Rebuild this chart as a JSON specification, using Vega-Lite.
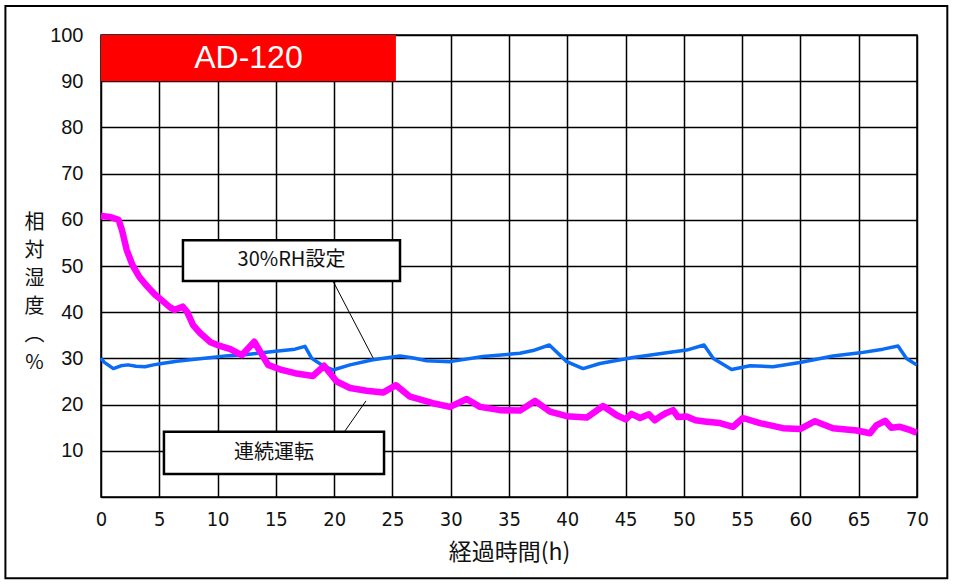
{
  "$schema": "https://vega.github.io/schema/vega-lite/v6.json",
  "width": 816,
  "height": 462,
  "autosize": {"type": "none"},
  "padding": {"left": 101, "top": 35, "right": 37, "bottom": 89},
  "background": "white",
  "config": {
    "view": {"stroke": "black", "strokeWidth": 1.5},
    "axis": {"grid": true, "gridColor": "black", "gridOpacity": 1, "gridWidth": 1.5, "ticks": false, "domain": false, "labelColor": "#111", "titleColor": "#111", "titleFontWeight": "normal"}
  },
  "datasets": {
    "rh": [
      {"t": 0, "v": 30.1}, {"t": 0.26, "v": 29.2}, {"t": 1.06, "v": 27.8}, {"t": 1.7, "v": 28.4}, {"t": 2.32, "v": 28.6}, {"t": 3.0, "v": 28.3}, {"t": 3.77, "v": 28.2}, {"t": 4.5, "v": 28.6}, {"t": 5.21, "v": 28.9}, {"t": 6.5, "v": 29.4}, {"t": 8.06, "v": 29.8}, {"t": 9.5, "v": 30.2}, {"t": 10.9, "v": 30.6}, {"t": 12.3, "v": 30.8}, {"t": 13.79, "v": 31.2}, {"t": 15.2, "v": 31.6}, {"t": 16.64, "v": 32.0}, {"t": 17.5, "v": 32.6}, {"t": 18.08, "v": 30.0}, {"t": 19.04, "v": 28.4}, {"t": 19.9, "v": 27.5}, {"t": 21.36, "v": 28.6}, {"t": 23.33, "v": 29.7}, {"t": 25.65, "v": 30.5}, {"t": 26.8, "v": 30.1}, {"t": 27.94, "v": 29.5}, {"t": 29.94, "v": 29.3}, {"t": 32.77, "v": 30.4}, {"t": 35.94, "v": 31.1}, {"t": 37.06, "v": 31.7}, {"t": 38.46, "v": 32.9}, {"t": 39.95, "v": 29.3}, {"t": 41.35, "v": 27.8}, {"t": 42.8, "v": 28.9}, {"t": 45.64, "v": 30.2}, {"t": 48.53, "v": 31.2}, {"t": 50.24, "v": 31.8}, {"t": 51.73, "v": 32.9}, {"t": 52.53, "v": 30.0}, {"t": 54.1, "v": 27.6}, {"t": 55.67, "v": 28.4}, {"t": 57.65, "v": 28.2}, {"t": 59.96, "v": 29.1}, {"t": 62.79, "v": 30.5}, {"t": 65.11, "v": 31.2}, {"t": 67.08, "v": 32.0}, {"t": 68.37, "v": 32.7}, {"t": 69.1, "v": 30.0}, {"t": 69.97, "v": 28.6}
    ],
    "cont": [
      {"t": 0, "v": 60.8}, {"t": 0.8, "v": 60.6}, {"t": 1.5, "v": 60.0}, {"t": 1.8, "v": 57.8}, {"t": 2.2, "v": 53.5}, {"t": 2.7, "v": 50.2}, {"t": 3.3, "v": 47.6}, {"t": 4.0, "v": 45.5}, {"t": 4.6, "v": 43.9}, {"t": 5.3, "v": 42.4}, {"t": 5.9, "v": 41.1}, {"t": 6.3, "v": 40.5}, {"t": 7.0, "v": 41.2}, {"t": 7.4, "v": 40.0}, {"t": 7.9, "v": 37.2}, {"t": 8.5, "v": 35.5}, {"t": 9.4, "v": 33.5}, {"t": 10.2, "v": 32.7}, {"t": 11.1, "v": 32.0}, {"t": 12.07, "v": 30.7}, {"t": 13.15, "v": 33.6}, {"t": 14.33, "v": 28.6}, {"t": 15.5, "v": 27.5}, {"t": 16.64, "v": 26.8}, {"t": 18.19, "v": 26.2}, {"t": 19.13, "v": 28.4}, {"t": 20.22, "v": 25.0}, {"t": 21.36, "v": 23.6}, {"t": 22.79, "v": 23.0}, {"t": 24.19, "v": 22.6}, {"t": 25.31, "v": 24.2}, {"t": 26.51, "v": 21.7}, {"t": 28.48, "v": 20.3}, {"t": 29.94, "v": 19.5}, {"t": 31.37, "v": 21.2}, {"t": 32.51, "v": 19.5}, {"t": 34.23, "v": 18.8}, {"t": 35.94, "v": 18.7}, {"t": 37.23, "v": 20.8}, {"t": 38.52, "v": 18.5}, {"t": 39.95, "v": 17.5}, {"t": 41.67, "v": 17.2}, {"t": 43.07, "v": 19.7}, {"t": 44.24, "v": 17.7}, {"t": 45.0, "v": 16.8}, {"t": 45.5, "v": 18.0}, {"t": 46.24, "v": 17.1}, {"t": 47.0, "v": 17.9}, {"t": 47.5, "v": 16.6}, {"t": 47.95, "v": 17.4}, {"t": 48.5, "v": 18.2}, {"t": 49.07, "v": 18.8}, {"t": 49.5, "v": 17.3}, {"t": 50.24, "v": 17.4}, {"t": 51.0, "v": 16.6}, {"t": 51.96, "v": 16.3}, {"t": 53.1, "v": 16.0}, {"t": 54.22, "v": 15.2}, {"t": 55.07, "v": 17.1}, {"t": 56.53, "v": 16.0}, {"t": 58.5, "v": 14.9}, {"t": 59.96, "v": 14.7}, {"t": 61.25, "v": 16.4}, {"t": 62.79, "v": 14.9}, {"t": 64.83, "v": 14.4}, {"t": 65.97, "v": 13.8}, {"t": 66.5, "v": 15.5}, {"t": 67.26, "v": 16.5}, {"t": 67.8, "v": 15.0}, {"t": 68.54, "v": 15.2}, {"t": 69.3, "v": 14.6}, {"t": 69.97, "v": 13.9}
    ],
    "frame": [{"x1": -8.2, "x2": 72.6, "y1": -17.6, "y2": 106.3}],
    "banner": [{"x1": 0, "x2": 25.3, "y1": 90, "y2": 100, "xc": 12.65, "yc": 95, "label": "AD-120"}],
    "boxes": [
      {"x1": 7.03, "x2": 25.65, "y1": 46.75, "y2": 55.6, "xc": 16.34, "yc": 51.2, "label": "30%RH設定"},
      {"x1": 5.4, "x2": 24.28, "y1": 5.0, "y2": 14.1, "xc": 14.84, "yc": 9.55, "label": "連続運転"}
    ],
    "leaders": [
      {"x1": 19.93, "y1": 46.6, "x2": 23.36, "y2": 30.0},
      {"x1": 20.93, "y1": 14.3, "x2": 22.73, "y2": 20.8}
    ]
  },
  "layer": [
    {
      "data": {"name": "frame"},
      "mark": {"type": "rect", "fill": null, "fillOpacity": 0, "stroke": "black", "strokeWidth": 2, "clip": false},
      "encoding": {
        "x": {"field": "x1", "type": "quantitative", "scale": {"domain": [0, 70], "nice": false, "zero": false}, "axis": {"values": [0, 5, 10, 15, 20, 25, 30, 35, 40, 45, 50, 55, 60, 65, 70], "labelFont": "DejaVu Sans Condensed, Liberation Sans Narrow, Liberation Sans", "labelFontSize": 20, "labelPadding": 12, "labelFlush": false, "title": "経過時間(h)", "titleFont": "Noto Sans CJK JP", "titleFontSize": 23, "titlePadding": 12}},
        "x2": {"field": "x2"},
        "y": {"field": "y1", "type": "quantitative", "scale": {"domain": [0, 100], "nice": false, "zero": false}, "axis": {"values": [0, 10, 20, 30, 40, 50, 60, 70, 80, 90, 100], "labelExpr": "datum.value == 0 ? '' : datum.label", "labelFont": "Liberation Sans", "labelFontSize": 20, "labelPadding": 18, "labelFlush": false, "title": ["相", "対", "湿", "度", "︵", "%"], "titleFont": "Noto Sans CJK JP", "titleFontSize": 20, "titleAngle": 0, "titleLineHeight": 28, "titleAlign": "center", "titleBaseline": "middle", "titleX": -67, "titleY": 187}},
        "y2": {"field": "y2"}
      }
    },
    {
      "data": {"name": "banner"},
      "mark": {"type": "rect", "fill": "#FF0000"},
      "encoding": {"x": {"field": "x1", "type": "quantitative"}, "x2": {"field": "x2"}, "y": {"field": "y1", "type": "quantitative"}, "y2": {"field": "y2"}}
    },
    {
      "data": {"name": "banner"},
      "mark": {"type": "text", "color": "white", "font": "Liberation Sans", "fontSize": 32, "align": "center", "baseline": "middle"},
      "encoding": {"x": {"field": "xc", "type": "quantitative"}, "y": {"field": "yc", "type": "quantitative"}, "text": {"field": "label"}}
    },
    {
      "data": {"name": "rh"},
      "mark": {"type": "line", "color": "#0A6CF5", "strokeWidth": 3.5, "strokeJoin": "round"},
      "encoding": {"x": {"field": "t", "type": "quantitative"}, "y": {"field": "v", "type": "quantitative"}}
    },
    {
      "data": {"name": "cont"},
      "mark": {"type": "line", "color": "#FF00FF", "strokeWidth": 6.5, "strokeJoin": "round"},
      "encoding": {"x": {"field": "t", "type": "quantitative"}, "y": {"field": "v", "type": "quantitative"}}
    },
    {
      "data": {"name": "leaders"},
      "mark": {"type": "rule", "color": "black", "strokeWidth": 1},
      "encoding": {"x": {"field": "x1", "type": "quantitative"}, "y": {"field": "y1", "type": "quantitative"}, "x2": {"field": "x2"}, "y2": {"field": "y2"}}
    },
    {
      "data": {"name": "boxes"},
      "mark": {"type": "rect", "fill": "white", "stroke": "black", "strokeWidth": 2.5},
      "encoding": {"x": {"field": "x1", "type": "quantitative"}, "x2": {"field": "x2"}, "y": {"field": "y1", "type": "quantitative"}, "y2": {"field": "y2"}}
    },
    {
      "data": {"name": "boxes"},
      "mark": {"type": "text", "color": "#111", "font": "Noto Sans CJK JP", "fontSize": 20, "align": "center", "baseline": "middle"},
      "encoding": {"x": {"field": "xc", "type": "quantitative"}, "y": {"field": "yc", "type": "quantitative"}, "text": {"field": "label"}}
    }
  ]
}
